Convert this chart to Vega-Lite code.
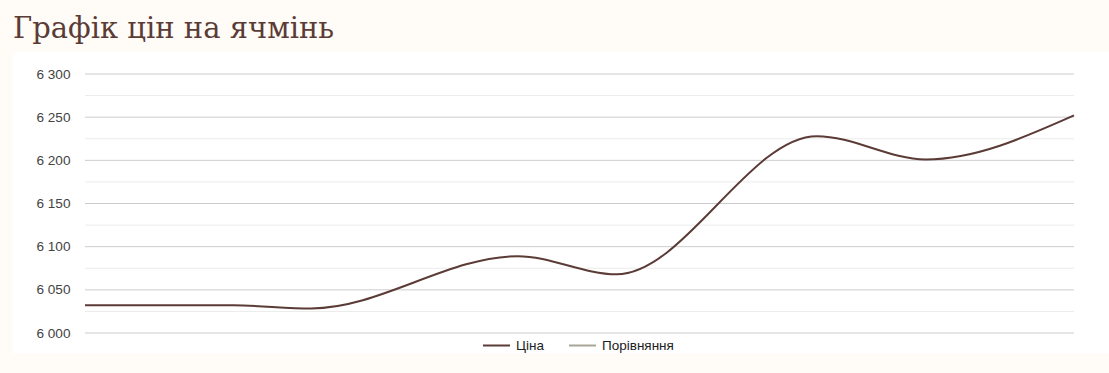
{
  "$schema": "https://vega.github.io/schema/vega-lite/v6.json",
  "width": 989,
  "height": 259,
  "autosize": {"type": "none"},
  "padding": {"left": 85, "top": 74, "right": 35, "bottom": 40},
  "background": "#fffbf7",
  "view": {"stroke": null},
  "title": {
    "text": "Графік цін на ячмінь",
    "anchor": "start",
    "frame": "group",
    "font": "DejaVu Serif",
    "fontSize": 29,
    "fontWeight": "normal",
    "color": "#5b3b36",
    "dx": -72,
    "offset": 8
  },
  "config": {"axisX": {"disable": true}},
  "datasets": {
    "grid": [
      {"v": 6000, "kind": "major"}, {"v": 6025, "kind": "minor"},
      {"v": 6050, "kind": "major"}, {"v": 6075, "kind": "minor"},
      {"v": 6100, "kind": "major"}, {"v": 6125, "kind": "minor"},
      {"v": 6150, "kind": "major"}, {"v": 6175, "kind": "minor"},
      {"v": 6200, "kind": "major"}, {"v": 6225, "kind": "minor"},
      {"v": 6250, "kind": "major"}, {"v": 6275, "kind": "minor"},
      {"v": 6300, "kind": "major"}
    ],
    "prices": [
      {"day": 0, "price": 6032, "series": "Ціна"},
      {"day": 12, "price": 6032, "series": "Ціна"},
      {"day": 18.3, "price": 6028.5, "series": "Ціна"},
      {"day": 35, "price": 6089, "series": "Ціна"},
      {"day": 43, "price": 6068, "series": "Ціна"},
      {"day": 59.2, "price": 6228, "series": "Ціна"},
      {"day": 68, "price": 6201, "series": "Ціна"},
      {"day": 80, "price": 6252, "series": "Ціна"}
    ]
  },
  "layer": [
    {
      "data": {"values": [{"panel": "background"}]},
      "mark": {"type": "rect", "fill": "#ffffff", "clip": false},
      "encoding": {
        "x": {"datum": -5.85, "type": "quantitative", "scale": {"domain": [0, 80], "nice": false, "zero": false}, "axis": {"title": null}},
        "x2": {"datum": 84},
        "y": {"datum": 6325.5, "type": "quantitative", "scale": {"domain": [6000, 6300], "nice": false, "zero": false}, "axis": {"title": null}},
        "y2": {"datum": 5976.5}
      }
    },
    {
      "data": {"name": "grid"},
      "transform": [{"filter": "datum.kind === 'minor'"}],
      "mark": {"type": "rule", "stroke": "#ebebeb", "strokeWidth": 1},
      "encoding": {
        "y": {"field": "v", "type": "quantitative", "axis": {"title": null}}
      }
    },
    {
      "data": {"name": "grid"},
      "transform": [{"filter": "datum.kind === 'major'"}],
      "mark": {"type": "rule", "stroke": "#cccccc", "strokeWidth": 1},
      "encoding": {
        "y": {
          "field": "v",
          "type": "quantitative",
          "axis": {
            "title": null,
            "values": [6000, 6050, 6100, 6150, 6200, 6250, 6300],
            "labelExpr": "replace(format(datum.value, ','), ',', ' ')",
            "grid": false,
            "domain": false,
            "ticks": false,
            "labelPadding": 15,
            "labelFont": "Liberation Sans",
            "labelFontSize": 13.6,
            "labelColor": "#444444",
            "zindex": 1
          }
        }
      }
    },
    {
      "data": {"name": "prices"},
      "mark": {"type": "line", "interpolate": "monotone", "strokeWidth": 2},
      "encoding": {
        "x": {"field": "day", "type": "quantitative", "axis": {"title": null}},
        "y": {"field": "price", "type": "quantitative", "axis": {"title": null}},
        "color": {
          "field": "series",
          "type": "nominal",
          "scale": {"domain": ["Ціна", "Порівняння"], "range": ["#5b3b36", "#a8a797"]},
          "legend": {
            "title": null,
            "orient": "none",
            "legendX": 397,
            "legendY": 257,
            "direction": "horizontal",
            "symbolType": "M-1,0H1",
            "symbolSize": 729,
            "symbolStrokeWidth": 2,
            "labelFont": "Liberation Sans",
            "labelFontSize": 13.5,
            "labelColor": "#222222",
            "labelOffset": 5,
            "columnPadding": 21
          }
        }
      }
    }
  ]
}
